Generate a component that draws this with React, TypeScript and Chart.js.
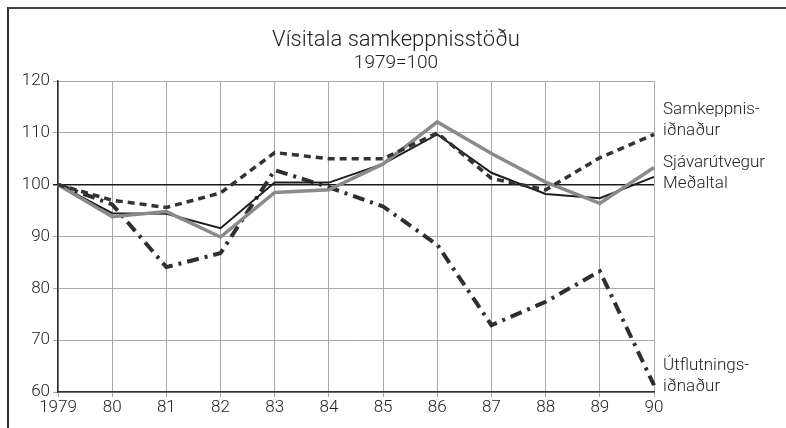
import React, { useEffect, useRef } from "react";
import { Chart, registerables } from "chart.js";

Chart.register(...registerables);

const years = ["1979", "80", "81", "82", "83", "84", "85", "86", "87", "88", "89", "90"];
const samkeppnis = [100, 97, 95.6, 98.4, 106.2, 105, 105, 110, 101.2, 99, 105.2, 109.7];
const sjavarutvegur = [100, 93.8, 94.8, 89.9, 98.5, 99, 104, 112.1, 106, 100.5, 96.4, 103.3];
const medaltal = [100, 94.5, 94.4, 91.6, 100.4, 100.4, 104, 109.7, 102.3, 98.2, 97.4, 101.5];
const utflutnings = [100, 96.2, 84.1, 86.8, 102.8, 99.5, 95.8, 88.4, 72.9, 77.4, 83.3, 61.3];

const FONT = "Roboto";

export default function App() {
  const ref = useRef<HTMLCanvasElement | null>(null);
  useEffect(() => {
    if (!ref.current) return;
    const chart = new Chart(ref.current, {
      type: "line",
      data: {
        labels: years,
        datasets: [
          { label: "Samkeppnisiðnaður", data: samkeppnis, borderColor: "#333", borderWidth: 3.5, borderDash: [7, 5] },
          { label: "Sjávarútvegur", data: sjavarutvegur, borderColor: "#8a8a8a", borderWidth: 3.5 },
          { label: "Meðaltal", data: medaltal, borderColor: "#1e1e1e", borderWidth: 2 },
          { label: "Útflutningsiðnaður", data: utflutnings, borderColor: "#2e2e2e", borderWidth: 4, borderDash: [12, 6, 3, 6] },
        ],
      },
      options: {
        responsive: false,
        animation: false,
        events: [],
        elements: { point: { radius: 0 }, line: { tension: 0 } },
        layout: { padding: { left: 8, right: 132, top: 81, bottom: 0 } },
        plugins: { legend: { display: false }, title: { display: false }, tooltip: { enabled: false } },
        scales: {
          x: {
            offset: false,
            grid: { color: "#a8a8a8", lineWidth: 1, tickLength: 5 },
            border: { color: "#333", width: 1.5 },
            ticks: { color: "#222", font: { family: FONT, size: 17, weight: "300" }, padding: 1, maxRotation: 0, autoSkip: false },
            afterFit: (s: any) => { s.height = 36; },
          },
          y: {
            min: 60,
            max: 120,
            grid: {
              color: (c: any) => (c.tick && c.tick.value === 100 ? "#1a1a1a" : "#a8a8a8"),
              lineWidth: (c: any) => (c.tick && c.tick.value === 100 ? 1.5 : 1),
              tickLength: 5,
            },
            border: { color: "#333", width: 1.5 },
            ticks: { stepSize: 10, color: "#222", font: { family: FONT, size: 17, weight: "300" }, padding: 3 },
            afterFit: (s: any) => { s.width = 50; },
          },
        },
      },
    });
    return () => chart.destroy();
  }, []);

  const lab: React.CSSProperties = {
    position: "absolute",
    left: 663,
    fontFamily: FONT,
    fontWeight: 300,
    fontSize: 17,
    color: "#222",
    lineHeight: "21px",
    whiteSpace: "nowrap",
  };

  return (
    <div style={{ position: "fixed", left: 0, top: 0, width: 786, height: 428, background: "#fff", overflow: "hidden" }}>
      <div style={{ position: "absolute", left: 7, top: 7, right: 0, bottom: 0, borderLeft: "2px solid #333", borderTop: "2px solid #444" }} />
      <canvas ref={ref} width={786} height={428} style={{ position: "absolute", left: 0, top: 0 }} />
      <div style={{ position: "absolute", left: 0, width: 792, top: 25, textAlign: "center", fontFamily: FONT, fontWeight: 300, fontSize: 22, color: "#222", lineHeight: "28px" }}>
        Vísitala samkeppnisstöðu
      </div>
      <div style={{ position: "absolute", left: 0, width: 792, top: 51, textAlign: "center", fontFamily: FONT, fontWeight: 300, fontSize: 19, color: "#222", lineHeight: "22px" }}>
        1979=100
      </div>
      <div style={{ ...lab, top: 98 }}>Samkeppnis-<br />iðnaður</div>
      <div style={{ ...lab, top: 151 }}>Sjávarútvegur<br />Meðaltal</div>
      <div style={{ ...lab, top: 354 }}>Útflutnings-<br />iðnaður</div>
    </div>
  );
}
